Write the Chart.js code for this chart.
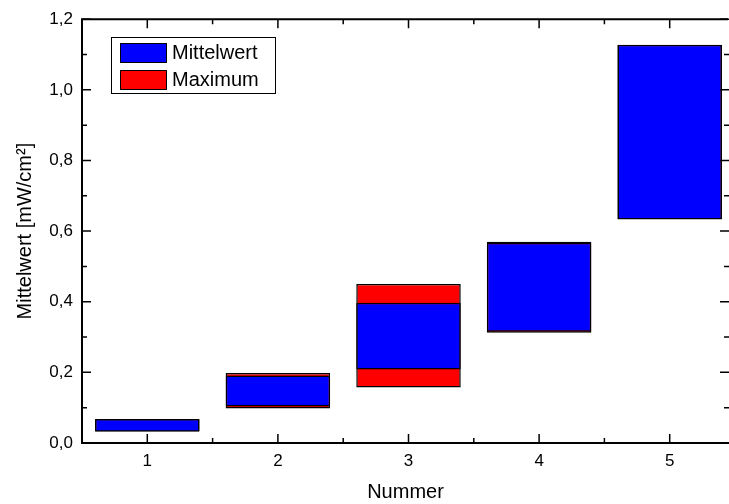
<!DOCTYPE html>
<html>
<head>
<meta charset="utf-8">
<script src="https://cdn.jsdelivr.net/npm/chart.js@4"></script>
<style>
  html, body { margin: 0; padding: 0; background: #fff; overflow: hidden; }
  #wrap { width: 729px; height: 504px; }
</style>
</head>
<body>
<div id="wrap"><canvas id="myChart"></canvas></div>
<script>
const categories = [1, 2, 3, 4, 5];
const mittelLow  = [0.032, 0.103, 0.208, 0.315, 0.633];
const mittelHigh = [0.068, 0.191, 0.397, 0.567, 1.128];
const maxLow     = [0.033, 0.098, 0.157, 0.312, 0.634];
const maxHigh    = [0.067, 0.198, 0.450, 0.570, 1.127];
const yTicks = [0, 0.2, 0.4, 0.6, 0.8, 1.0, 1.2];

const FONT = "'Liberation Sans', Arial, sans-serif";

// Origin-style frame with inward ticks on all four sides
const frame = {
  id: 'frame',
  afterDatasetsDraw(chart) {
    const {ctx, chartArea: a, scales: {x, y}} = chart;
    ctx.save();
    ctx.strokeStyle = '#000';
    ctx.lineWidth = 2;
    ctx.beginPath();
    ctx.moveTo(a.right - 1, a.top); ctx.lineTo(a.left, a.top);
    ctx.lineTo(a.left, a.bottom); ctx.lineTo(a.right, a.bottom);
    ctx.stroke();
    ctx.lineWidth = 1.5;
    ctx.beginPath();
    for (let v = 0.5; v <= x.max; v += 0.5) {
      const px = x.getPixelForValue(v);
      const len = Number.isInteger(v) ? 9 : 5;
      ctx.moveTo(px, a.bottom); ctx.lineTo(px, a.bottom - len);
      ctx.moveTo(px, a.top); ctx.lineTo(px, a.top + len);
    }
    for (let i = 0; i <= 12; i++) {
      const py = y.getPixelForValue(i / 10);
      const len = i % 2 === 0 ? 9 : 5;
      ctx.moveTo(a.left, py); ctx.lineTo(a.left + len, py);
      ctx.moveTo(a.right, py); ctx.lineTo(a.right - len, py);
    }
    ctx.stroke();
    ctx.restore();
  }
};

const boxLegend = {
  id: 'boxLegend',
  afterDraw(chart) {
    const ctx = chart.ctx;
    const sets = chart.data.datasets;
    ctx.save();
    ctx.fillStyle = '#fff';
    ctx.fillRect(111, 37, 164, 56);
    ctx.strokeStyle = '#000';
    ctx.lineWidth = 1;
    ctx.strokeRect(111.5, 37.5, 164, 56);
    ctx.font = '20px ' + FONT;
    ctx.textBaseline = 'middle';
    sets.forEach((ds, i) => {
      const top = 43 + i * 27;
      ctx.fillStyle = ds.backgroundColor;
      ctx.fillRect(120, top, 46, 19);
      ctx.strokeRect(120.5, top + 0.5, 46, 19);
      ctx.fillStyle = '#000';
      ctx.fillText(ds.label, 172, top + 10);
    });
    ctx.restore();
  }
};

const ctx = document.getElementById('myChart');
new Chart(ctx, {
  type: 'bar',
  data: {
    datasets: [{
      label: 'Mittelwert',
      data: categories.map((c, i) => ({x: c, y: [mittelLow[i], mittelHigh[i]]})),
      backgroundColor: '#0000ff',
      borderColor: '#000',
      borderWidth: 1.5,
      borderSkipped: false
    }, {
      label: 'Maximum',
      data: categories.map((c, i) => ({x: c, y: [maxLow[i], maxHigh[i]]})),
      backgroundColor: '#ff0000',
      borderColor: '#000',
      borderWidth: 1.5,
      borderSkipped: false
    }]
  },
  options: {
    responsive: true,
    maintainAspectRatio: false,
    animation: false,
    grouped: false,
    categoryPercentage: 1,
    barPercentage: 0.8,
    layout: { padding: { top: 16, right: 0, left: 0, bottom: 0 } },
    plugins: {
      legend: { display: false },
      tooltip: { enabled: false }
    },
    scales: {
      x: {
        type: 'linear',
        offset: false,
        min: 0.5,
        max: 5.454,
        afterBuildTicks: s => { s.ticks = categories.map(v => ({value: v})); },
        afterFit: s => { s.height = 61; },
        grid: { display: false, drawTicks: false, offset: false },
        border: { display: false },
        ticks: { color: '#000', padding: 8, font: { family: FONT, size: 17 },
          callback: v => String(v) },
        title: { display: true, text: 'Nummer', color: '#000',
          font: { family: FONT, size: 20 }, padding: { top: 0, bottom: 0 } }
      },
      y: {
        min: 0,
        max: 1.2,
        afterBuildTicks: s => { s.ticks = yTicks.map(v => ({value: v})); },
        afterFit: s => { s.width = 82; },
        grid: { display: false, drawTicks: false },
        border: { display: false },
        ticks: { color: '#000', padding: 9, font: { family: FONT, size: 17 },
          callback: v => v.toFixed(1).replace('.', ',') },
        title: { display: true, text: 'Mittelwert [mW/cm²]', color: '#000',
          font: { family: FONT, size: 20 }, padding: { top: 13, bottom: 0 } }
      }
    }
  },
  plugins: [frame, boxLegend]
});
</script>
</body>
</html>
